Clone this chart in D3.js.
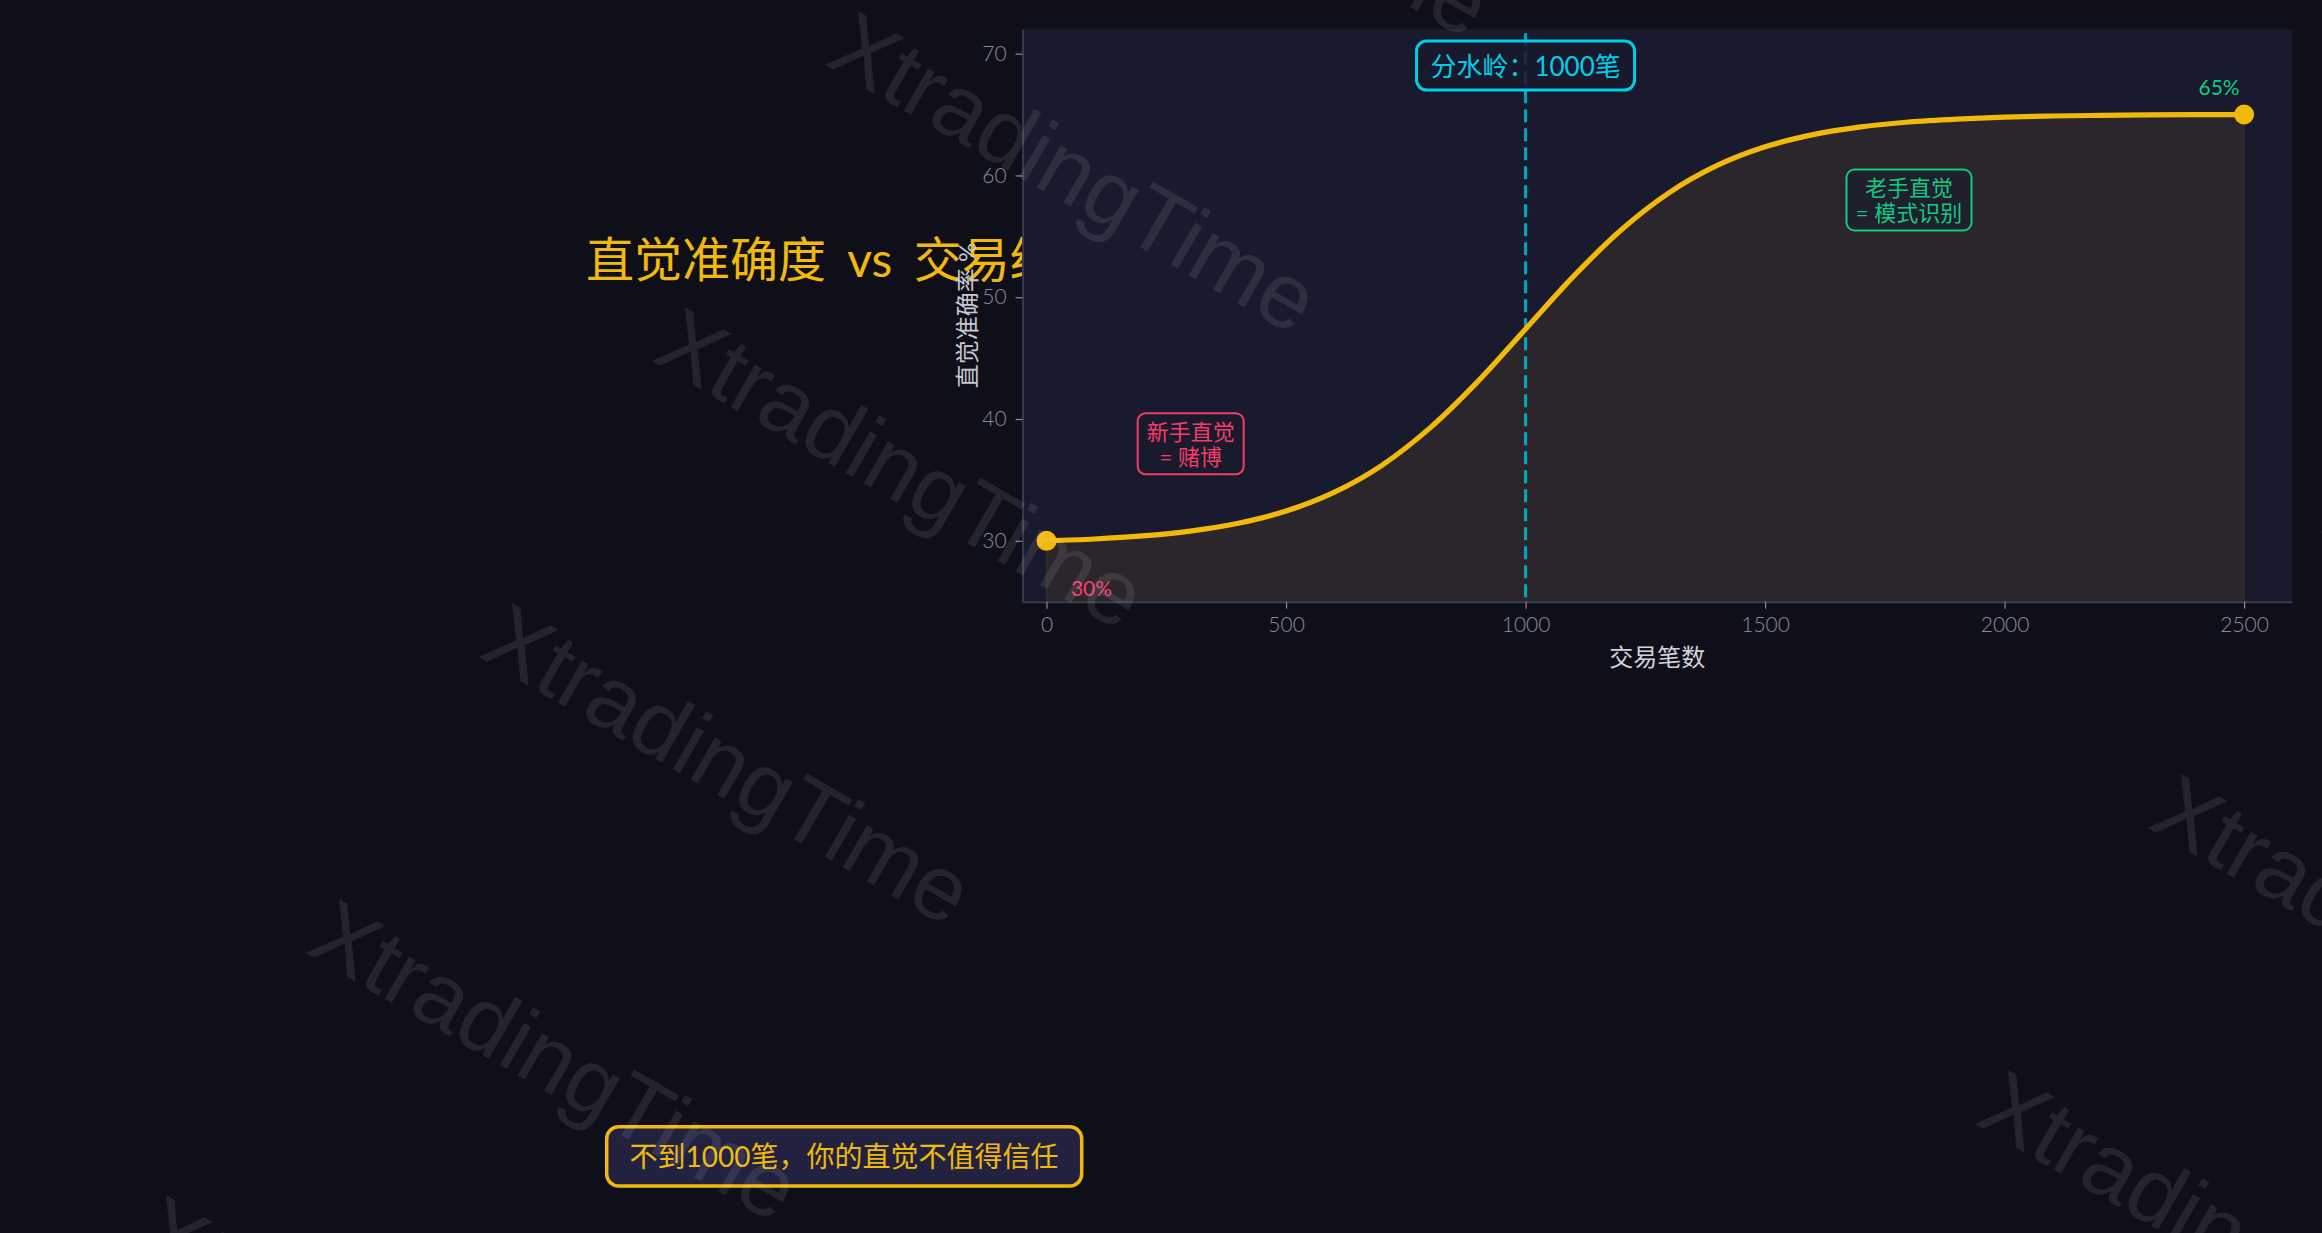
<!DOCTYPE html>
<html><head><meta charset="utf-8">
<script src="https://cdn.jsdelivr.net/npm/d3@7"></script>
<style>html,body{margin:0;padding:0;background:#0f0f1a;overflow:hidden}</style>
</head><body><svg id="c" width="2322" height="1233"></svg>
<script>
// ---- data ----
const trades   = [0,100,200,300,400,500,600,700,800,900,1000,1100,1200,1300,1400,1500,1600,1700,1800,1900,2000,2100,2200,2300,2400,2500];
const accuracy = [30.00,30.15,30.40,30.80,31.44,32.44,33.97,36.20,39.25,43.07,47.39,51.71,55.54,58.59,60.82,62.35,63.35,63.99,64.39,64.63,64.79,64.88,64.93,64.97,64.99,65.00];
const xTicks = [0,500,1000,1500,2000,2500];
const yTicks = [30,40,50,60,70];
const xDomain = [-50,2600];
const yDomain = [25,72];
const threshold = 1000;
const titleText = "直觉准确度 vs 交易经验";
const xLabel = "交易笔数";
const yLabel = "直觉准确率 %";
const thresholdLabel = "分水岭：1000笔";
const noviceLines = ["新手直觉","= 赌博"];
const veteranLines = ["老手直觉","= 模式识别"];
const startLabel = "30%";
const endLabel = "65%";
const calloutText = "不到1000笔，你的直觉不值得信任";
const watermark = "XtradingTime";

// ---- styles ----
const FONT = 'Lato, "Noto Sans CJK SC", sans-serif';
const YELLOW = "#F0B90B", CYAN = "#00cfe6", PINK = "#f23d68", GREEN = "#0ecb81";
const W = 2322, H = 1233;
const plot = {left:1022.6, right:2292, top:29.3, bottom:601.7};

const svg = d3.select("#c");
svg.append("rect").attr("width",W).attr("height",H).attr("fill","#0f0f1a");

// title (drawn first, partly hidden by plot)
svg.append("text").attr("x",586).attr("y",258)
  .attr("dominant-baseline","central")
  .attr("font-family",FONT).attr("font-size",48).attr("font-weight",400)
  .attr("fill",YELLOW).attr("word-spacing",9)
  .text(titleText);

const x = d3.scaleLinear().domain(xDomain).range([plot.left, plot.right]);
const y = d3.scaleLinear().domain(yDomain).range([plot.bottom, plot.top]);

// plot background
svg.append("rect").attr("x",plot.left).attr("y",plot.top)
  .attr("width",plot.right-plot.left).attr("height",plot.bottom-plot.top)
  .attr("fill","#1a1a2e");

const pts = trades.map((t,i)=>({t, v:accuracy[i]}));

// area
svg.append("path").datum(pts)
  .attr("d", d3.area().x(d=>x(d.t)).y0(y(yDomain[0])).y1(d=>y(d.v)).curve(d3.curveMonotoneX))
  .attr("fill",YELLOW).attr("fill-opacity",0.08)
  .attr("stroke",YELLOW).attr("stroke-opacity",0.12).attr("stroke-width",1);

// threshold dashed line
svg.append("line").attr("x1",x(threshold)).attr("x2",x(threshold))
  .attr("y1",plot.top+4).attr("y2",plot.bottom)
  .attr("stroke","#00bcd4").attr("stroke-width",3.2).attr("stroke-dasharray","13,6")
  .attr("stroke-opacity",0.85);

// curve
svg.append("path").datum(pts)
  .attr("d", d3.line().x(d=>x(d.t)).y(d=>y(d.v)).curve(d3.curveMonotoneX))
  .attr("fill","none").attr("stroke",YELLOW).attr("stroke-width",5.2);

// end points
const ends = [pts[0], pts[pts.length-1]];
svg.selectAll("circle.end").data(ends).enter().append("circle")
  .attr("cx",d=>x(d.t)).attr("cy",d=>y(d.v)).attr("r",10).attr("fill",YELLOW);

// axes
const fmt = d3.format("d");
const gx = svg.append("g").attr("transform",`translate(0,${plot.bottom})`)
  .call(d3.axisBottom(x).tickValues(xTicks).tickFormat(fmt).tickSize(7).tickSizeOuter(0).tickPadding(8));
const gy = svg.append("g").attr("transform",`translate(${plot.left},0)`)
  .call(d3.axisLeft(y).tickValues(yTicks).tickFormat(fmt).tickSize(7).tickSizeOuter(0).tickPadding(9));
[gx,gy].forEach(g=>{
  g.select(".domain").attr("stroke","#3a3a52").attr("stroke-width",2);
  g.selectAll(".tick line").attr("stroke","#8a8a99").attr("stroke-width",1.2);
  g.selectAll(".tick text").attr("fill","#8a8a99").attr("font-size",21).attr("font-weight",300).attr("font-family",FONT);
});

// axis labels
svg.append("text").attr("x",(plot.left+plot.right)/2).attr("y",656)
  .attr("text-anchor","middle").attr("dominant-baseline","central")
  .attr("font-family",FONT).attr("font-size",24).attr("fill","#d2d2da").text(xLabel);
svg.append("text").attr("transform",`translate(966,${(plot.top+plot.bottom)/2}) rotate(-90)`)
  .attr("text-anchor","middle").attr("dominant-baseline","central")
  .attr("font-family",FONT).attr("font-size",24).attr("fill","#c8c8d2").text(yLabel);

// threshold label box
const tlx = x(threshold), tly = 65.5;
svg.append("rect").attr("x",tlx-109).attr("y",tly-24.5).attr("width",218).attr("height",49)
  .attr("rx",10).attr("fill","#1a1a2e").attr("fill-opacity",0.85)
  .attr("stroke",CYAN).attr("stroke-width",3);
svg.append("text").attr("x",tlx).attr("y",tly).attr("text-anchor","middle").attr("dominant-baseline","central")
  .attr("font-family",FONT).attr("font-size",26).attr("fill",CYAN).text(thresholdLabel);

// annotation boxes
function noteBox(cx, cy, w, h, color, lines){
  svg.append("rect").attr("x",cx-w/2).attr("y",cy-h/2).attr("width",w).attr("height",h)
    .attr("rx",8).attr("fill","#1a1a2e").attr("fill-opacity",0.6)
    .attr("stroke",color).attr("stroke-width",2);
  lines.forEach((l,i)=>{
    svg.append("text").attr("x",cx).attr("y",cy+(i-0.5)*25.5)
      .attr("text-anchor","middle").attr("dominant-baseline","central")
      .attr("font-family",FONT).attr("font-size",22).attr("fill",color).text(l);
  });
}
noteBox(1190.7, 443.8, 106, 61, PINK, noviceLines);
noteBox(1909, 200, 125, 61, GREEN, veteranLines);

// value labels
svg.append("text").attr("x",x(ends[0].t)+45).attr("y",y(ends[0].v)+47)
  .attr("text-anchor","middle").attr("dominant-baseline","central")
  .attr("font-family",FONT).attr("font-size",21).attr("fill",PINK).text(startLabel);
svg.append("text").attr("x",x(ends[1].t)-25).attr("y",y(ends[1].v)-28)
  .attr("text-anchor","middle").attr("dominant-baseline","central")
  .attr("font-family",FONT).attr("font-size",21).attr("fill",GREEN).text(endLabel);

// bottom callout
svg.append("rect").attr("x",606.7).attr("y",1126.7).attr("width",475).attr("height",59.3)
  .attr("rx",12).attr("fill","#222240").attr("stroke",YELLOW).attr("stroke-width",3.5);
svg.append("text").attr("x",844).attr("y",1156).attr("text-anchor","middle").attr("dominant-baseline","central")
  .attr("font-family",FONT).attr("font-size",28).attr("font-weight",400).attr("fill",YELLOW).text(calloutText);

// watermarks
const wm = svg.append("g");
const base = [650,360], va = [-173,296], vb = [1323,763];
for (let i=-1;i<=1;i++) for (let j=-3;j<=5;j++){
  const px = base[0]+i*vb[0]+j*va[0], py = base[1]+i*vb[1]+j*va[1];
  if (px < -700 || px > W+50 || py < -400 || py > H+100) continue;
  wm.append("text").attr("transform",`translate(${px},${py}) rotate(30)`)
    .attr("font-family",'"Liberation Sans", Arial, sans-serif').attr("font-size",92)
    .attr("fill","#ffffff").attr("fill-opacity",0.09).text(watermark);
}
</script></body></html>
